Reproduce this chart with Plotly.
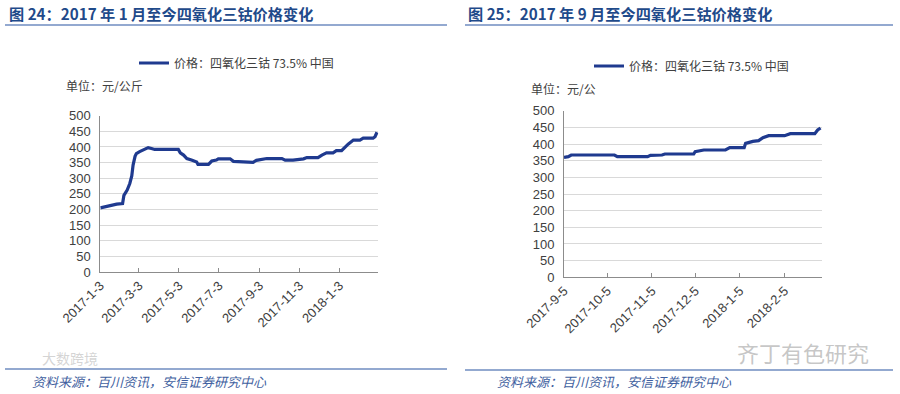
import plotly.graph_objects as go

# ---------------- data ----------------
left_dates = [
    "2017-01-03", "2017-01-10", "2017-01-18", "2017-01-28", "2017-02-06", "2017-02-08",
    "2017-02-13", "2017-02-17", "2017-02-20", "2017-02-22", "2017-02-25", "2017-02-27",
    "2017-03-04", "2017-03-10", "2017-03-17", "2017-03-22", "2017-03-27", "2017-05-02",
    "2017-05-05", "2017-05-10", "2017-05-15", "2017-05-22", "2017-05-30", "2017-06-01",
    "2017-06-17", "2017-06-22", "2017-06-29", "2017-07-02", "2017-07-20", "2017-07-25",
    "2017-08-24", "2017-08-29", "2017-09-06", "2017-09-14", "2017-10-07", "2017-10-12",
    "2017-10-24", "2017-11-01", "2017-11-09", "2017-11-14", "2017-12-01", "2017-12-07",
    "2017-12-14", "2017-12-24", "2017-12-29", "2018-01-06", "2018-01-11", "2018-01-16",
    "2018-01-24", "2018-02-03", "2018-02-08", "2018-02-23", "2018-02-26", "2018-03-01",
]
left_values = [
    205, 208, 214, 217, 219, 245,
    262, 283, 307, 342, 370, 379,
    385, 392, 398, 395, 392, 392,
    381, 374, 363, 358, 352, 344,
    344, 355, 358, 362, 362, 354,
    351, 357, 360, 363, 363, 358,
    358, 360, 362, 366, 366, 374,
    381, 381, 388, 388, 400, 409,
    422, 422, 428, 428, 433, 447,
]

right_dates = [
    "2017-09-05", "2017-09-08", "2017-09-10", "2017-10-10", "2017-10-12", "2017-11-02",
    "2017-11-04", "2017-11-12", "2017-11-14", "2017-12-04", "2017-12-05", "2017-12-08",
    "2017-12-11", "2017-12-26", "2017-12-29", "2018-01-08", "2018-01-09", "2018-01-14",
    "2018-01-18", "2018-01-21", "2018-01-25", "2018-02-05", "2018-02-09", "2018-02-26",
    "2018-02-28", "2018-03-02",
]
right_values = [
    360, 362, 367, 367, 362, 362,
    366, 367, 370, 370, 377, 379,
    382, 382, 389, 389, 402, 408,
    410, 419, 425, 425, 431, 431,
    442, 448,
]

left_tickvals = ["2017-01-03", "2017-03-03", "2017-05-03", "2017-07-03", "2017-09-03",
                 "2017-11-03", "2018-01-03", "2018-03-03"]
left_ticktext = ["2017-1-3", "2017-3-3", "2017-5-3", "2017-7-3", "2017-9-3",
                 "2017-11-3", "2018-1-3", ""]
right_tickvals = ["2017-09-05", "2017-10-05", "2017-11-05", "2017-12-05", "2018-01-05",
                  "2018-02-05", "2018-03-03"]
right_ticktext = ["2017-9-5", "2017-10-5", "2017-11-5", "2017-12-5", "2018-1-5",
                  "2018-2-5", ""]

series_name = "价格：四氧化三钴 73.5% 中国"
title_left = "图 24：2017 年 1 月至今四氧化三钴价格变化"
title_right = "图 25：2017 年 9 月至今四氧化三钴价格变化"
unit_left = "单位：元/公斤"
unit_right = "单位：元/公"
source_text = "资料来源：百川资讯，安信证券研究中心"

# ---------------- style ----------------
W, H = 900, 394
LINE = "#1f3a8f"
TITLE_C = "#1f4a8a"
RULE_C = "#6f8cc0"
TXT = "#404040"
GRID = "#d9d9d9"
FONT = "Liberation Sans, Arial, Noto Sans CJK SC, sans-serif"
CJK = "Noto Sans CJK SC, sans-serif"


def px(x):
    return x / W


def py(y):
    return 1 - y / H


fig = go.Figure()
fig.add_trace(go.Scatter(x=left_dates, y=left_values, mode="lines", name=series_name,
                         line=dict(color=LINE, width=3.2), xaxis="x", yaxis="y",
                         legend="legend"))
fig.add_trace(go.Scatter(x=right_dates, y=right_values, mode="lines", name=series_name,
                         line=dict(color=LINE, width=3.2), xaxis="x2", yaxis="y2",
                         legend="legend2"))

xcommon = dict(type="date", showgrid=False, showline=True, linecolor="#8c8c8c",
               linewidth=1, ticks="inside", ticklen=4, tickcolor="#8c8c8c",
               tickangle=-45, tickfont=dict(family=FONT, size=13, color=TXT),
               tickmode="array", zeroline=False, automargin=False)
ycommon = dict(range=[0, 500], dtick=50, showgrid=True, gridcolor=GRID, gridwidth=1,
               showline=True, linecolor="#8c8c8c", linewidth=1, ticks="",
               tickfont=dict(family=FONT, size=13, color=TXT), zeroline=False,
               ticklabelstandoff=6, automargin=False)

fig.update_layout(
    width=W, height=H, margin=dict(l=0, r=0, t=0, b=0, autoexpand=False),
    paper_bgcolor="white", plot_bgcolor="white",
    xaxis=dict(xcommon, domain=[px(100.3), px(378.3)],
               range=["2017-01-03", "2018-03-03"],
               tickvals=left_tickvals, ticktext=left_ticktext, anchor="y"),
    yaxis=dict(ycommon, domain=[py(272), py(115.7)], anchor="x"),
    xaxis2=dict(xcommon, domain=[px(564), px(822)],
                range=["2017-09-05", "2018-03-03"],
                tickvals=right_tickvals, ticktext=right_ticktext, anchor="y2"),
    yaxis2=dict(ycommon, domain=[py(277.3), py(110.7)], anchor="x2"),
    legend=dict(x=px(134), y=py(63), xanchor="left", yanchor="middle",
                font=dict(family=CJK, size=12, color=TXT), bgcolor="rgba(0,0,0,0)",
                itemwidth=30),
    legend2=dict(x=px(589), y=py(66), xanchor="left", yanchor="middle",
                 font=dict(family=CJK, size=12, color=TXT), bgcolor="rgba(0,0,0,0)",
                 itemwidth=30),
    showlegend=True,
)

annotations = [
    dict(text=title_left, x=px(7), y=py(13), xanchor="left", yanchor="middle",
         font=dict(family=CJK, size=15.2, color=TITLE_C, weight="bold")),
    dict(text=title_right, x=px(466), y=py(13), xanchor="left", yanchor="middle",
         font=dict(family=CJK, size=15.2, color=TITLE_C, weight="bold")),
    dict(text=unit_left, x=px(64), y=py(85), xanchor="left", yanchor="middle",
         font=dict(family=CJK, size=12, color=TXT)),
    dict(text=unit_right, x=px(529), y=py(88), xanchor="left", yanchor="middle",
         font=dict(family=CJK, size=12, color=TXT)),
    dict(text=source_text, x=px(30), y=py(381), xanchor="left", yanchor="middle",
         font=dict(family=CJK, size=13, color="#3f5fa0", style="italic")),
    dict(text=source_text, x=px(495), y=py(381), xanchor="left", yanchor="middle",
         font=dict(family=CJK, size=13, color="#3f5fa0", style="italic")),
    dict(text="齐丁有色研究", x=px(735), y=py(352), xanchor="left", yanchor="middle",
         font=dict(family=CJK, size=22, color="rgba(150,150,150,0.55)")),
    dict(text="大数跨境", x=px(40), y=py(358), xanchor="left", yanchor="middle",
         font=dict(family=CJK, size=14, color="rgba(170,170,170,0.5)")),
]
for a in annotations:
    a.update(xref="paper", yref="paper", showarrow=False)
fig.update_layout(annotations=annotations)

shapes = [
    dict(type="line", x0=px(5), x1=px(447), y0=py(25), y1=py(25)),
    dict(type="line", x0=px(465), x1=px(893), y0=py(25), y1=py(25)),
    dict(type="line", x0=px(5), x1=px(447), y0=py(369), y1=py(369)),
    dict(type="line", x0=px(465), x1=px(893), y0=py(370), y1=py(370)),
]
for s in shapes:
    s.update(xref="paper", yref="paper", line=dict(color=RULE_C, width=1.5))
fig.update_layout(shapes=shapes)

fig.write_html("out.html")
